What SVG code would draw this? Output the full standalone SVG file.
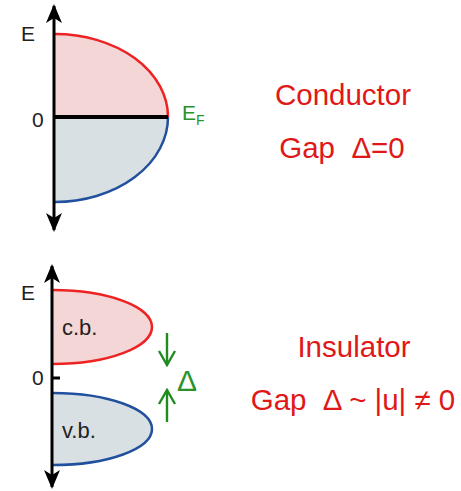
<svg xmlns="http://www.w3.org/2000/svg" width="461" height="491" viewBox="0 0 461 491">
<defs>
<marker id="ah" viewBox="0 0 20 16" refX="18" refY="8" markerWidth="20" markerHeight="16" markerUnits="userSpaceOnUse" orient="auto-start-reverse">
<path d="M20 8 L1 0 L6 8 L1 16 Z" fill="#000"/>
</marker>
<marker id="gh" viewBox="0 0 20 20" refX="18" refY="10" markerWidth="20" markerHeight="20" markerUnits="userSpaceOnUse" orient="auto">
<path d="M4 2 L18 10 L4 18" fill="none" stroke="#1e8c1e" stroke-width="2.4"/>
</marker>
<style>
.lbl{font-family:"Liberation Sans",Arial,sans-serif;fill:#222}
.red{font-family:"Liberation Sans",Arial,sans-serif;fill:#e01818;white-space:pre}
.grn{font-family:"Liberation Sans",Arial,sans-serif;fill:#2a922a}
.cbf{fill:#f4d6d6}
.vbf{fill:#d9e0e3}
.cbs{fill:none;stroke:#ee2222;stroke-width:2.5}
.vbs{fill:none;stroke:#21509e;stroke-width:2.5}
.axis{stroke:#000;stroke-width:3;fill:none}
.garr{stroke:#1e8c1e;stroke-width:2.4;fill:none}
</style>
</defs>
<rect width="461" height="491" fill="#fff"/>

<g id="conductor-bands">
<path class="cbf" d="M55 34 A113 83 0 0 1 168 117 L55 117 Z"/>
<path class="vbf" d="M168 117 A113 85 0 0 1 55 202 L55 117 Z"/>
<path class="cbs" d="M55 34 A113 83 0 0 1 168 117"/>
<path class="vbs" d="M168 117 A113 85 0 0 1 55 202"/>
<line x1="54" y1="117" x2="168" y2="117" stroke="#000" stroke-width="4"/>
</g>

<g id="insulator-bands">
<path class="cbf" d="M53 290 A99 37 0 0 1 53 364 Z"/>
<path class="vbf" d="M53 393 A99 36 0 0 1 53 465 Z"/>
<path class="cbs" d="M53 290 A99 37 0 0 1 53 364"/>
<path class="vbs" d="M53 393 A99 36 0 0 1 53 465"/>
<text class="lbl" x="62" y="335" font-size="22">c.b.</text>
<text class="lbl" x="62" y="438" font-size="22">v.b.</text>
<line x1="53" y1="378" x2="60" y2="378" stroke="#000" stroke-width="3"/>
</g>

<g id="connectors">
<line class="axis" x1="54" y1="6" x2="54" y2="230" marker-start="url(#ah)" marker-end="url(#ah)"/>
<line class="axis" x1="52" y1="266" x2="52" y2="487" marker-start="url(#ah)" marker-end="url(#ah)"/>
<line class="garr" x1="167" y1="333" x2="167" y2="365" marker-end="url(#gh)"/>
<line class="garr" x1="167" y1="422" x2="167" y2="390" marker-end="url(#gh)"/>
</g>

<g id="labels-top">
<text class="lbl" x="21" y="41" font-size="21">E</text>
<text class="lbl" x="32" y="127" font-size="21">0</text>
<text class="grn" x="182" y="120" font-size="21">E<tspan font-size="14" dy="5">F</tspan></text>
</g>

<g id="labels-bottom">
<text class="lbl" x="21" y="300" font-size="21">E</text>
<text class="lbl" x="32" y="385" font-size="21">0</text>
<text class="grn" x="177" y="391" font-size="30">Δ</text>
</g>

<g id="text-conductor">
<text class="red" x="343" y="105" font-size="29.5" text-anchor="middle">Conductor</text>
<text class="red" x="342" y="158" font-size="29.5" text-anchor="middle" xml:space="preserve">Gap  Δ=0</text>
</g>

<g id="text-insulator">
<text class="red" x="354" y="357" font-size="29.5" text-anchor="middle">Insulator</text>
<text class="red" x="353" y="410" font-size="29.5" text-anchor="middle" xml:space="preserve">Gap  Δ ~ |u| ≠ 0</text>
</g>
</svg>
